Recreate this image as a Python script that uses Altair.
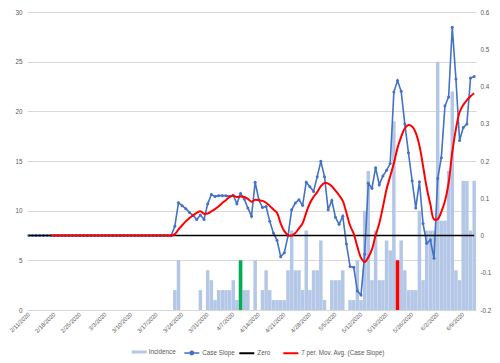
import altair as alt
import pandas as pd

FONT = "Liberation Sans"
TXT = "#595959"
GRID = "#D9D9D9"

# ---- data -------------------------------------------------------------
days = [f"{d.month}/{d.day}/{d.year}" for d in pd.date_range("2020-02-11", "2020-06-12", freq="D")]
tick_days = days[::7]

incidence = [0] * 40 + [
    2, 5, 0, 0, 0, 0, 0, 2, 0, 4,
    3, 1, 2, 2, 2, 2, 3, 1, 5, 2,
    2, 0, 5, 0, 2, 4, 2, 1, 1, 1,
    1, 4, 8, 4, 4, 2, 8, 2, 4, 4,
    7, 1, 0, 3, 3, 3, 4, 0, 1, 1,
    5, 1, 10, 14, 3, 8, 3, 3, 7, 6,
    19, 5, 7, 4, 2, 2, 2, 10, 3, 8,
    8, 8, 25, 9, 9, 14, 22, 4, 3, 13,
    13, 8, 13,
]

case_slope = [0.0] * 40 + [
    0.025, 0.088, 0.080, 0.072, 0.062, 0.054, 0.043, 0.055, 0.043, 0.085,
    0.110, 0.105, 0.107, 0.107, 0.107, 0.105, 0.108, 0.085, 0.113, 0.098,
    0.074, 0.052, 0.143, 0.096, 0.075, 0.078, 0.038, 0.007, -0.013, -0.057,
    -0.046, -0.001, 0.069, 0.087, 0.096, 0.081, 0.143, 0.131, 0.118, 0.158,
    0.199, 0.158, 0.069, 0.094, 0.049, 0.030, 0.052, -0.023, -0.083, -0.085,
    -0.149, -0.160, -0.050, 0.140, 0.127, 0.182, 0.136, 0.160, 0.175, 0.193,
    0.385, 0.416, 0.387, 0.299, 0.222, 0.147, 0.074, 0.144, 0.032, -0.021,
    -0.012, -0.061, 0.153, 0.209, 0.348, 0.372, 0.559, 0.420, 0.255, 0.290,
    0.299, 0.423, 0.427,
]

green_day = "4/9/2020"
red_day = "5/22/2020"

series_names = ["Incidence", "Case Slope", "Zero", "7 per. Mov. Avg. (Case Slope)"]

df = pd.DataFrame({
    "idx": list(range(len(days))),
    "day": days,
    "incidence": incidence,
    "slope": case_slope,
})

base = alt.Chart(df)

# ---- encodings ----------------------------------------------------------
x_enc = alt.X(
    "day:O", sort=days, title=None,
    scale=alt.Scale(paddingInner=0.04, paddingOuter=0.02),
    axis=alt.Axis(values=tick_days, labelAngle=-45, labelAlign="right",
                  labelBaseline="middle", labelFontSize=5.8, labelFont=FONT,
                  labelColor=TXT, ticks=False, domainColor=GRID, domainWidth=1,
                  labelPadding=3, grid=False, labelOverlap=False, title=None),
)

left_scale = alt.Scale(domain=[0, 30], nice=False, zero=True)
left_axis = alt.Axis(orient="left", values=[0, 5, 10, 15, 20, 25, 30], grid=True,
                     gridColor=GRID, gridWidth=1, domain=False, ticks=False,
                     labelPadding=5, labelFontSize=6.3, labelFont=FONT,
                     labelColor=TXT, title=None)

right_scale = alt.Scale(domain=[-0.2, 0.6], nice=False, zero=False)
right_axis = alt.Axis(orient="right", values=[-0.2, -0.1, 0, 0.1, 0.2, 0.3, 0.4, 0.5, 0.6],
                      grid=False, domain=False, ticks=False, labelPadding=4,
                      labelFontSize=6.3, labelFont=FONT, labelColor=TXT, title=None,
                      labelExpr="abs(datum.value) < 1e-9 ? '0' : (datum.value < 0 ? '-' + format(-datum.value, '.1f') : format(datum.value, '.1f'))")

LEG_Y = 332.5
leg_common = dict(orient="none", direction="horizontal", title=None, padding=0,
                  labelFontSize=6.3, labelFont=FONT, labelColor=TXT, labelOffset=2,
                  symbolSize=225, legendY=LEG_Y)

# ---- bars ----------------------------------------------------------------
bars = base.transform_calculate(series="'Incidence'").mark_bar().encode(
    x=x_enc,
    y=alt.Y("incidence:Q", scale=left_scale, axis=left_axis),
    fill=alt.Fill("series:N", scale=alt.Scale(domain=[series_names[0]], range=["#B4C7E7"]),
                  legend=alt.Legend(legendX=104.7, symbolType="M-1,-0.2L1,-0.2L1,0.2L-1,0.2Z",
                                    symbolStrokeWidth=0, **leg_common)),
)
green_bar = base.transform_filter(alt.datum.day == green_day).mark_bar(color="#00B050").encode(
    x=x_enc, y=alt.Y("incidence:Q", scale=left_scale, axis=left_axis))
red_bar = base.transform_filter(alt.datum.day == red_day).mark_bar(color="#FF0000").encode(
    x=x_enc, y=alt.Y("incidence:Q", scale=left_scale, axis=left_axis))

bar_group = alt.layer(bars, green_bar, red_bar)

# ---- lines ---------------------------------------------------------------
blue_line = base.transform_calculate(series="'Case Slope'").mark_line(strokeWidth=1.6).encode(
    x=x_enc,
    y=alt.Y("slope:Q", scale=right_scale, axis=right_axis),
    stroke=alt.Stroke("series:N", scale=alt.Scale(domain=[series_names[1]], range=["#4472C4"]),
                      legend=alt.Legend(legendX=156.3,
                                        symbolType="M-1,0L1,0M-0.22,0A0.22,0.22,0,1,1,0.22,0A0.22,0.22,0,1,1,-0.22,0",
                                        symbolStrokeWidth=1.6, symbolFillColor="#4472C4",
                                        **leg_common)),
)
blue_pts = base.mark_circle(size=9, color="#4472C4", opacity=1).encode(
    x=x_enc, y=alt.Y("slope:Q", scale=right_scale, axis=right_axis))

line_color_scale = alt.Scale(domain=series_names[2:], range=["#000000", "#FF0000"])
line_legend = alt.Legend(legendX=211.3, symbolType="stroke", symbolStrokeWidth=2,
                         columnPadding=9, **leg_common)

zero_line = base.transform_calculate(series="'Zero'", zero="0").mark_line(strokeWidth=1.4).encode(
    x=x_enc,
    y=alt.Y("zero:Q", scale=right_scale, axis=right_axis),
    color=alt.Color("series:N", scale=line_color_scale, legend=line_legend),
)

mov_avg = (
    base.transform_window(ma="mean(slope)", frame=[-6, 0], sort=[alt.SortField("idx")])
    .transform_filter(alt.datum.idx >= 6)
    .transform_calculate(series="'7 per. Mov. Avg. (Case Slope)'")
    .mark_line(strokeWidth=2, interpolate="catmull-rom")
    .encode(
        x=x_enc,
        y=alt.Y("ma:Q", scale=right_scale, axis=right_axis),
        color=alt.Color("series:N", scale=line_color_scale, legend=line_legend),
    )
)

line_group = alt.layer(blue_line, blue_pts, zero_line, mov_avg)

chart = (
    alt.layer(bar_group, line_group)
    .resolve_scale(y="independent")
    .properties(width=449, height=298,
                autosize=alt.AutoSizeParams(type="none"),
                padding={"left": 19, "top": 4, "right": 16, "bottom": 48},
                background="white")
    .configure_view(stroke=None)
)

chart.save("out.html", embed_options={"renderer": "svg", "actions": False})
